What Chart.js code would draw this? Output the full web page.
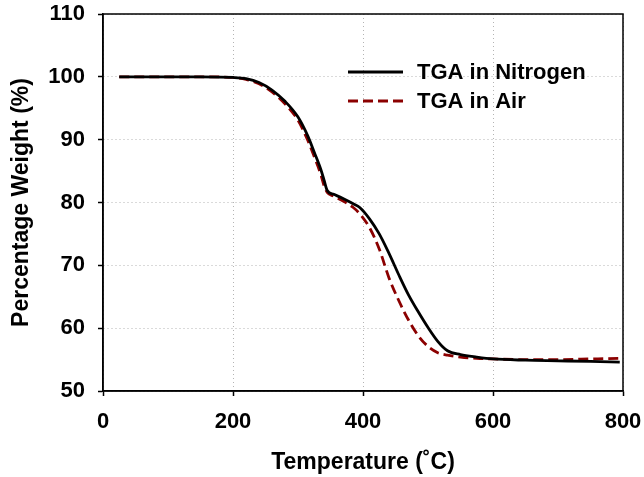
<!DOCTYPE html>
<html>
<head>
<meta charset="utf-8">
<script src="https://cdn.jsdelivr.net/npm/chart.js@4/dist/chart.umd.min.js"></script>
<style>
  body { margin: 0; background: #fff; }
  canvas { display: block; }
</style>
</head>
<body>
<canvas id="tgaChart" width="644" height="477"></canvas>
<script>
const temperature = [25, 100, 150, 200, 220, 240, 260, 280, 300, 315, 325, 335, 340, 345, 355, 370, 385, 395, 410, 425, 440, 455, 470, 485, 500, 515, 530, 550, 575, 600, 650, 700, 750, 795];
const nitrogen = [100, 100, 100, 99.9, 99.7, 99.1, 97.9, 96.1, 93.6, 90.6, 88.0, 85.3, 83.6, 81.9, 81.3, 80.6, 79.8, 79.2, 77.4, 75.0, 71.9, 68.5, 65.3, 62.6, 60.1, 57.9, 56.4, 55.8, 55.4, 55.1, 54.9, 54.8, 54.7, 54.6];
const air = [100, 100, 100, 99.9, 99.6, 98.9, 97.6, 95.7, 93.1, 89.9, 87.3, 84.5, 82.7, 81.6, 81.0, 80.2, 79.2, 78.2, 76.0, 72.6, 68.0, 64.4, 61.3, 58.8, 57.1, 56.1, 55.7, 55.4, 55.2, 55.1, 55.0, 55.0, 55.1, 55.2];
const seriesNames = ["TGA in Nitrogen", "TGA in Air"];

const font = "'Liberation Sans', Arial, sans-serif";

const toPoints = (ys) => ys.map((y, i) => ({ x: temperature[i], y: y }));

// frame round the plot + legend drawn inside the plot area
const frameAndLegend = {
  id: "frameAndLegend",
  afterDraw(chart) {
    const { ctx, chartArea } = chart;
    ctx.save();
    ctx.strokeStyle = "#000";
    ctx.lineWidth = 1.5;
    ctx.strokeRect(chartArea.left, chartArea.top, chartArea.right - chartArea.left, chartArea.bottom - chartArea.top);

    let x0 = chartArea.left + 245;
    let y0 = chartArea.top + 58;
    ctx.font = "bold 22px " + font;
    ctx.textBaseline = "middle";
    chart.data.datasets.forEach((ds, i) => {
      let y = y0 + i * 29;
      ctx.strokeStyle = ds.borderColor;
      ctx.lineWidth = ds.borderWidth;
      ctx.setLineDash(ds.borderDash || []);
      ctx.beginPath();
      ctx.moveTo(x0, y);
      ctx.lineTo(x0 + 55, y);
      ctx.stroke();
      ctx.setLineDash([]);
      ctx.fillStyle = "#000";
      ctx.fillText(ds.label, x0 + 69, y + 1);
    });
    ctx.restore();
  },
};

let ctx = document.getElementById("tgaChart").getContext("2d");

window.tgaChart = new Chart(ctx, {
  type: "line",
  data: {
    datasets: [
      {
        label: seriesNames[0],
        data: toPoints(nitrogen),
        borderColor: "#000000",
        borderWidth: 2.8,
        pointRadius: 0,
        cubicInterpolationMode: "monotone",
      },
      {
        label: seriesNames[1],
        data: toPoints(air),
        borderColor: "#8b0000",
        borderWidth: 2.8,
        borderDash: [10, 5],
        pointRadius: 0,
        cubicInterpolationMode: "monotone",
      },
    ],
  },
  options: {
    responsive: false,
    animation: false,
    devicePixelRatio: 1,
    layout: { padding: 0 },
    plugins: {
      legend: { display: false },
      tooltip: { enabled: false },
    },
    scales: {
      x: {
        type: "linear",
        min: 0,
        max: 800,
        afterFit: (s) => {
          s.height = 86;
          s.paddingLeft = 0;
          s.paddingRight = 21;
        },
        ticks: {
          stepSize: 200,
          padding: 13,
          color: "#000",
          font: { family: font, size: 22, weight: "bold" },
        },
        grid: {
          color: "#b4b4b4",
          lineWidth: 1,
          tickColor: "#000",
          tickLength: 5,
          tickWidth: 1.5,
        },
        border: { color: "#000", width: 1.5, dash: [1, 3] },
        title: {
          display: true,
          text: "Temperature (˚C)",
          color: "#000",
          padding: { bottom: 1 },
          font: { family: font, size: 23, weight: "bold" },
        },
      },
      y: {
        min: 50,
        max: 110,
        afterFit: (s) => {
          s.width = 103;
          s.paddingTop = 14;
          s.paddingBottom = 0;
        },
        ticks: {
          stepSize: 10,
          padding: 13,
          color: "#000",
          font: { family: font, size: 22, weight: "bold" },
        },
        grid: {
          color: "#b4b4b4",
          lineWidth: 1,
          tickColor: "#000",
          tickLength: 5,
          tickWidth: 1.5,
        },
        border: { color: "#000", width: 1.5, dash: [1, 3] },
        title: {
          display: true,
          text: "Percentage Weight (%)",
          color: "#000",
          padding: { top: 8 },
          font: { family: font, size: 23, weight: "bold" },
        },
      },
    },
  },
  plugins: [frameAndLegend],
});
</script>
</body>
</html>
